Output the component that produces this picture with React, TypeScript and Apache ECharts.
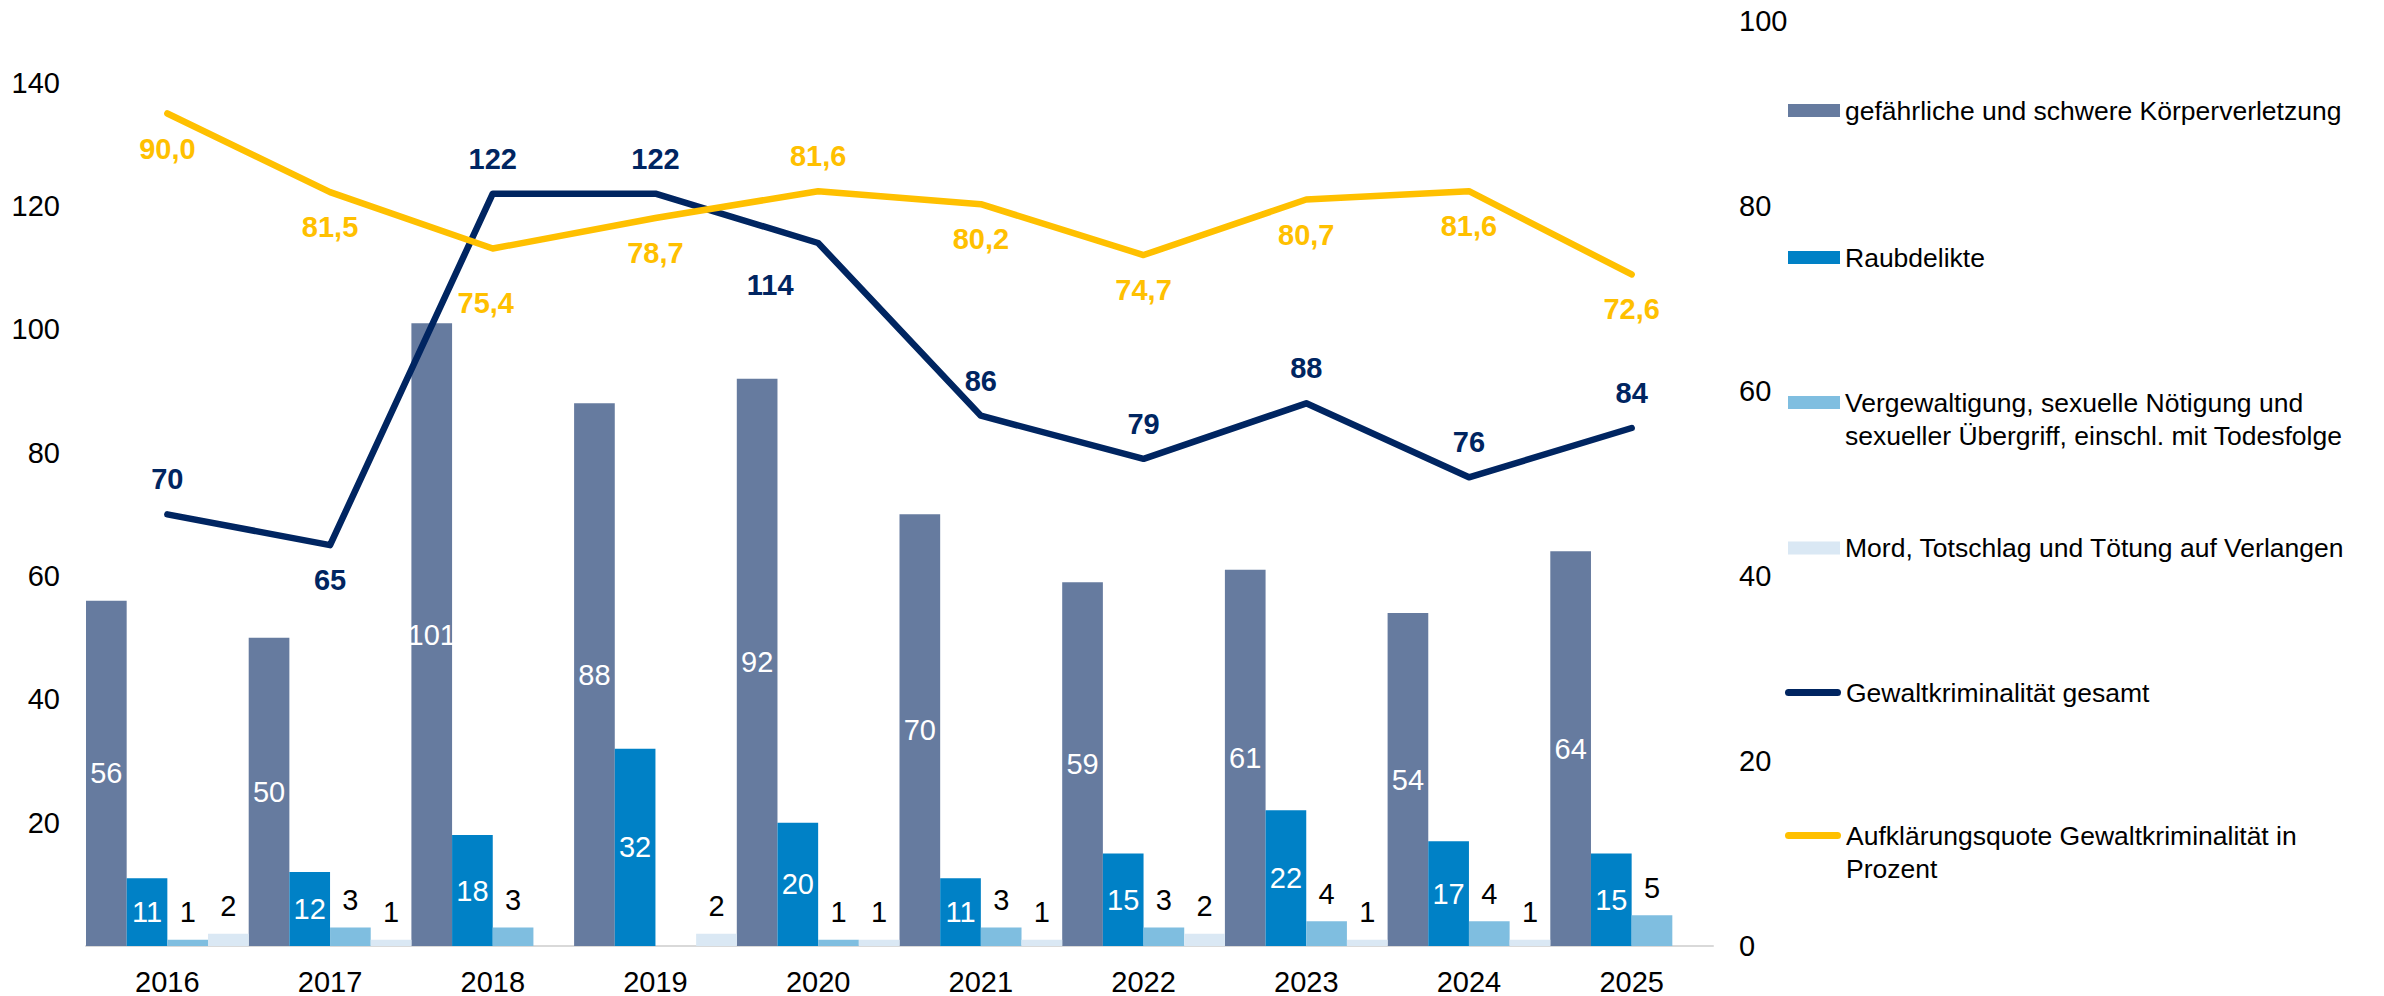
import React, { useEffect, useRef } from "react";
import * as echarts from "echarts";

// ---- data ----
const years = ["2016", "2017", "2018", "2019", "2020", "2021", "2022", "2023", "2024", "2025"];
const koerperverletzung = [56, 50, 101, 88, 92, 70, 59, 61, 54, 64];
const raubdelikte = [11, 12, 18, 32, 20, 11, 15, 22, 17, 15];
const vergewaltigung = [1, 3, 3, null, 1, 3, 3, 4, 4, 5];
const mord = [2, 1, null, 2, 1, 1, 2, 1, 1, null];
const gewaltGesamt = [70, 65, 122, 122, 114, 86, 79, 88, 76, 84];
const aufklaerungsquote = [90.0, 81.5, 75.4, 78.7, 81.6, 80.2, 74.7, 80.7, 81.6, 72.6];

// ---- label placement (style only) ----
const gesamtLabelPos = ["top", "bottom", "top", "top", "bottom", "top", "top", "top", "top", "top"];
const gesamtLabelOffset = [[0, 0], [0, 0], [0, 0], [0, 0], [-48, 7], [0, 0], [0, 0], [0, 0], [0, 0], [0, 0]];
const quoteLabelPos = ["bottom", "bottom", "bottom", "bottom", "top", "bottom", "bottom", "bottom", "bottom", "bottom"];
const quoteLabelOffset = [[0, 0], [0, 0], [-7, 19], [0, 0], [0, 0], [0, 0], [0, 0], [0, 0], [0, 0], [0, 0]];

const NAMES = {
  kv: "gefährliche und schwere Körperverletzung",
  raub: "Raubdelikte",
  verg: "Vergewaltigung, sexuelle Nötigung und sexueller Übergriff, einschl. mit Todesfolge",
  mord: "Mord, Totschlag und Tötung auf Verlangen",
  gesamt: "Gewaltkriminalität gesamt",
  quote: "Aufklärungsquote Gewaltkriminalität in Prozent",
};
// leading empty line keeps the first text line level with the legend icon
const LEGEND_TEXT: Record<string, string> = {
  [NAMES.kv]: NAMES.kv,
  [NAMES.raub]: NAMES.raub,
  [NAMES.verg]: "\nVergewaltigung, sexuelle Nötigung und\nsexueller Übergriff, einschl. mit Todesfolge",
  [NAMES.mord]: NAMES.mord,
  [NAMES.gesamt]: NAMES.gesamt,
  [NAMES.quote]: "\nAufklärungsquote Gewaltkriminalität in\nProzent",
};

const COLORS = {
  kv: "#667B9F",
  raub: "#0081C6",
  verg: "#7FBEE0",
  mord: "#DAE8F4",
  gesamt: "#002561",
  quote: "#FFC000",
};

const FONT = "'Liberation Sans', Arial, Helvetica, sans-serif";
const capsule = "path://M3.5,0 H52.5 A3.5,3.5 0 0 1 52.5,7 H3.5 A3.5,3.5 0 0 1 3.5,0 Z";

export default function App() {
  const ref = useRef<HTMLDivElement>(null);
  useEffect(() => {
    if (!ref.current) return;
    const chart = echarts.init(ref.current, null, { renderer: "svg" });

    const legendItem = (name: string, left: number, top: number, opts: any = {}) => ({
      show: true,
      orient: "vertical",
      left,
      top,
      padding: 0,
      itemGap: 0,
      selectedMode: false,
      itemWidth: opts.itemWidth ?? 52,
      itemHeight: opts.itemHeight ?? 13,
      icon: opts.icon ?? "rect",
      itemStyle: { borderWidth: 0 },
      formatter: (n: string) => LEGEND_TEXT[n] ?? n,
      textStyle: {
        fontFamily: FONT,
        fontSize: 26.5,
        color: "#000",
        lineHeight: 33,
      },
      data: [name],
    });

    const lineLabel = (color: string) => ({
      show: true,
      color,
      fontWeight: "bold",
      fontSize: 29,
      fontFamily: FONT,
      distance: 20,
    });

    const option: any = {
      animation: false,
      backgroundColor: "#fff",
      textStyle: { fontFamily: FONT },
      grid: { left: 86, right: 671, top: 21, bottom: 50, containLabel: false },
      legend: [
        legendItem(NAMES.kv, 1788, 94),
        legendItem(NAMES.raub, 1788, 241),
        legendItem(NAMES.verg, 1788, 353),
        legendItem(NAMES.mord, 1788, 531.5),
        legendItem(NAMES.gesamt, 1785, 676, { icon: capsule, itemWidth: 56, itemHeight: 7 }),
        legendItem(NAMES.quote, 1785, 786, { icon: capsule, itemWidth: 56, itemHeight: 7 }),
      ],
      xAxis: {
        type: "category",
        data: years,
        axisLine: { show: true, lineStyle: { color: "#D9D9D9", width: 2 } },
        axisTick: { show: false },
        axisLabel: { fontSize: 29, color: "#000", fontFamily: FONT, margin: 21 },
        splitLine: { show: false },
      },
      yAxis: [
        {
          type: "value",
          min: 0,
          max: 150,
          interval: 20,
          axisLine: { show: false },
          axisTick: { show: false },
          splitLine: { show: false },
          axisLabel: {
            fontSize: 29,
            color: "#000",
            fontFamily: FONT,
            margin: 26,
            formatter: (v: number) => (v === 0 || v === 150 ? "" : String(v)),
          },
        },
        {
          type: "value",
          min: 0,
          max: 100,
          interval: 20,
          position: "right",
          axisLine: { show: false },
          axisTick: { show: false },
          splitLine: { show: false },
          axisLabel: { fontSize: 29, color: "#000", fontFamily: FONT, margin: 26 },
        },
      ],
      series: [
        {
          name: NAMES.kv,
          type: "bar",
          data: koerperverletzung,
          barGap: "0%",
          barCategoryGap: "0%",
          itemStyle: { color: COLORS.kv },
          label: { show: true, position: "inside", color: "#fff", fontSize: 29, fontFamily: FONT },
        },
        {
          name: NAMES.raub,
          type: "bar",
          data: raubdelikte,
          barGap: "0%",
          barCategoryGap: "0%",
          itemStyle: { color: COLORS.raub },
          label: { show: true, position: "inside", color: "#fff", fontSize: 29, fontFamily: FONT },
        },
        {
          name: NAMES.verg,
          type: "bar",
          data: vergewaltigung,
          barGap: "0%",
          barCategoryGap: "0%",
          itemStyle: { color: COLORS.verg },
          label: { show: true, position: "top", distance: 13, color: "#000", fontSize: 29, fontFamily: FONT },
        },
        {
          name: NAMES.mord,
          type: "bar",
          data: mord,
          barGap: "0%",
          barCategoryGap: "0%",
          itemStyle: { color: COLORS.mord },
          label: { show: true, position: "top", distance: 13, color: "#000", fontSize: 29, fontFamily: FONT },
        },
        {
          name: NAMES.gesamt,
          type: "line",
          yAxisIndex: 0,
          symbol: "circle",
          symbolSize: 1,
          showSymbol: true,
          z: 5,
          itemStyle: { color: COLORS.gesamt, borderWidth: 0 },
          lineStyle: { color: COLORS.gesamt, width: 6.5, cap: "round", join: "round" },
          label: lineLabel(COLORS.gesamt),
          data: gewaltGesamt.map((v, i) => ({
            value: v,
            label: { position: gesamtLabelPos[i], offset: gesamtLabelOffset[i] },
          })),
        },
        {
          name: NAMES.quote,
          type: "line",
          yAxisIndex: 1,
          symbol: "circle",
          symbolSize: 1,
          showSymbol: true,
          z: 6,
          itemStyle: { color: COLORS.quote, borderWidth: 0 },
          lineStyle: { color: COLORS.quote, width: 6.5, cap: "round", join: "round" },
          label: {
            ...lineLabel(COLORS.quote),
            formatter: (p: any) => Number(p.value).toFixed(1).replace(".", ","),
          },
          data: aufklaerungsquote.map((v, i) => ({
            value: v,
            label: { position: quoteLabelPos[i], offset: quoteLabelOffset[i] },
          })),
        },
      ],
    };

    chart.setOption(option);
    return () => chart.dispose();
  }, []);

  return (
    <div
      ref={ref}
      style={{ position: "absolute", left: 0, top: 0, width: 2384, height: 996, background: "#fff" }}
    />
  );
}
